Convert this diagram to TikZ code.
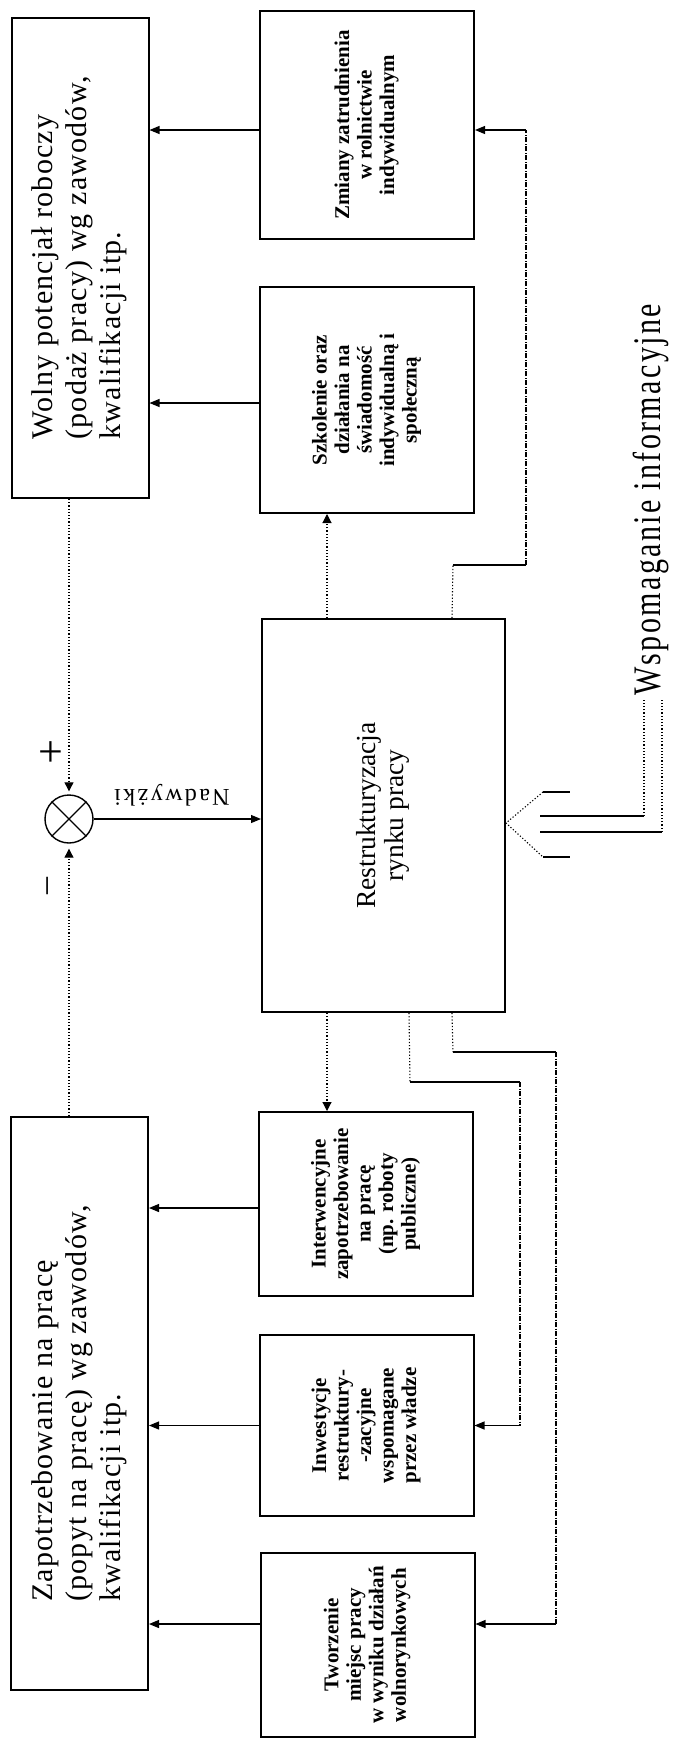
\documentclass[tikz,border=0pt]{standalone}
\usepackage{fontspec}
\setmainfont{Liberation Serif}
\newfontfamily\spacedfont{Liberation Serif}[LetterSpace=10]
\newfontfamily\boxfont{Liberation Serif}[LetterSpace=4]
\newfontfamily\widefont{Liberation Serif}[LetterSpace=8]
\usepackage{graphicx}
\usetikzlibrary{arrows.meta,calc}
\newcommand{\leftlines}[1]{\rotatebox{90}{\begin{tabular}{@{}l@{}}#1\end{tabular}}}
\newcommand{\midlines}[1]{\rotatebox{90}{\begin{tabular}{@{}c@{}}#1\end{tabular}}}
\tikzset{
  bigbox/.style={draw=black,line width=2pt,minimum width=137pt,inner sep=0pt,font=\boxfont\fontsize{30}{34}\selectfont},
  smallbox/.style={draw=black,line width=2pt,minimum width=214pt,inner sep=0pt,font=\bfseries\fontsize{21}{22.5}\selectfont},
  restrbox/.style={draw=black,line width=2pt,minimum width=243pt,minimum height=393pt,inner sep=0pt,font=\fontsize{27.5}{28}\selectfont},
  sumnode/.style={draw=black,circle,line width=1.4pt,minimum size=48pt,inner sep=0pt},
  plainline/.style={line width=1.1pt},
  solidarr/.style={plainline,-{Triangle[length=10pt,width=8pt]}},
  dotline/.style={line width=1.1pt,dash pattern=on 1.2pt off 2pt},
  dotarr/.style={dotline,-{Triangle[length=9pt,width=9pt]}},
  dashdot/.style={line width=1.1pt,dash pattern=on 5pt off 1.5pt on 1pt off 1.5pt},
  hollowarr/.style={line width=1.6pt}
}
\begin{document}
\begin{tikzpicture}[x=1pt,y=-1pt]
  \path[fill=white,use as bounding box] (0,0) rectangle (672,1740);
  % left column
  \node[bigbox,minimum height=480pt] (wolny) at (80,258) {\leftlines{Wolny potencjał roboczy\\(podaż pracy) wg zawodów,\\kwalifikacji itp.}};
  \node[bigbox,minimum height=573pt] (zapotrz) at (79.5,1403.5) {\leftlines{Zapotrzebowanie na pracę\\(popyt na pracę) wg zawodów,\\kwalifikacji itp.}};
  % middle column
  \node[smallbox,minimum height=228pt] (zmiany) at (367,125) {\midlines{Zmiany zatrudnienia\\w rolnictwie\\indywidualnym}};
  \node[smallbox,minimum height=226pt] (szkol) at (367,400) {\midlines{Szkolenie oraz\\działania na\\świadomość\\indywidualną i\\społeczną}};
  \node[restrbox] (restr) at (383.5,815.5) {\midlines{Restrukturyzacja\\rynku pracy}};
  \node[smallbox,minimum height=184pt] (interw) at (366,1204) {\midlines{Interwencyjne\\zapotrzebowanie\\na pracę\\(np. roboty\\publiczne)}};
  \node[smallbox,minimum height=181pt] (inwest) at (366.5,1425.5) {\midlines{Inwestycje\\restruktury-\\-zacyjne\\wspomagane\\przez władze}};
  \node[smallbox,minimum height=184pt] (tworz) at (367.5,1645) {\midlines{Tworzenie\\miejsc pracy\\w wyniku działań\\wolnorynkowych}};
  % summing junction
  \node[sumnode] (sum) at (69,819) {};
  \draw[line width=1.2pt] (sum.45) -- (sum.225) (sum.135) -- (sum.315);
  \node[font=\fontsize{44}{44}\selectfont] (plus) at (51,754) {+};
  \node[rotate=90,font=\fontsize{34}{34}\selectfont] (minus) at (51,886) {–};
  \node[rotate=180,font=\spacedfont\fontsize{24}{24}\selectfont] (nadw) at (172,795) {Nadwyżki};
  \node[rotate=90,font=\widefont\fontsize{30}{30}\selectfont] (wspom) at (651,500) {\scalebox{1}[1.3]{Wspomaganie informacyjne}};

  % outputs into the left boxes
  \coordinate (zmA) at ([yshift=-5pt]zmiany.west);
  \coordinate (szA) at ([yshift=-3pt]szkol.west);
  \coordinate (inA) at ([yshift=-4pt]interw.west);
  \coordinate (twA) at ([yshift=21pt]tworz.west);
  \draw[solidarr] (zmA) -- (zmA -| wolny.east);
  \draw[solidarr] (szA) -- (szA -| wolny.east);
  \draw[solidarr] (inA) -- (inA -| zapotrz.east);
  \draw[solidarr] (inwest.west) -- (inwest.west -| zapotrz.east);
  \draw[solidarr] (twA) -- (twA -| zapotrz.east);

  % feedback into the junction
  \coordinate (sumT) at ([yshift=3pt]sum.north);
  \coordinate (sumB) at ([yshift=-5pt]sum.south);
  \draw[dotarr] (wolny.south -| sum.north) -- (sumT);
  \draw[dotarr] (zapotrz.north -| sum.south) -- (sumB);
  \draw[solidarr] (sum.east) -- (sum.east -| restr.west);

  % restructuring outputs
  \coordinate (rN1) at ([xshift=66pt]restr.north west);
  \coordinate (rN2) at ([xshift=191pt]restr.north west);
  \coordinate (rS1) at ([xshift=66pt]restr.south west);
  \coordinate (rS2) at ([xshift=148pt]restr.south west);
  \coordinate (rS3) at ([xshift=191pt]restr.south west);
  \draw[dotarr] (rN1) -- (rN1 |- szkol.south);
  \draw[dotarr] (rS1) -- (rS1 |- interw.north);

  \coordinate (zmB) at ([yshift=-5pt]zmiany.east);
  \coordinate (zmK1) at (453,565);
  \coordinate (zmK2) at (526,565);
  \draw[dotline] (rN2) -- (zmK1);
  \draw[plainline] (zmK1) -- (zmK2);
  \draw[dashdot] (zmK2) -- (zmK2 |- zmB);
  \draw[solidarr] (zmK2 |- zmB) -- (zmB);

  \coordinate (inK1) at (410,1082);
  \coordinate (inK2) at (520,1082);
  \draw[dotline] (rS2) -- (inK1);
  \draw[plainline] (inK1) -- (inK2);
  \draw[dashdot] (inK2) -- (inK2 |- inwest.east);
  \draw[solidarr] (inK2 |- inwest.east) -- (inwest.east);

  \coordinate (twB) at ([yshift=21pt]tworz.east);
  \coordinate (twK1) at (453,1052);
  \coordinate (twK2) at (556,1052);
  \draw[dotline] (rS3) -- (twK1);
  \draw[plainline] (twK1) -- (twK2);
  \draw[dashdot] (twK2) -- (twK2 |- twB);
  \draw[solidarr] (twK2 |- twB) -- (twB);

  % information support arrow
  \coordinate (tip) at ([yshift=-7.5pt]restr.east);
  \coordinate (hA1) at (540,816);
  \coordinate (hA2) at (644,816);
  \coordinate (hB1) at (540,832);
  \coordinate (hB2) at (662,832);
  \coordinate (hd1) at (543,792);
  \coordinate (hd1e) at (570,792);
  \coordinate (hd2) at (543,857);
  \coordinate (hd2e) at (570,857);
  \draw[hollowarr] (hA1) -- (hA2) (hB1) -- (hB2);
  \draw[hollowarr] (hd1) -- (hd1e) (hd2) -- (hd2e);
  \draw[dotline] (hd1) -- (tip) -- (hd2);
  \draw[dotline] (hA2) -- (hA2 |- wspom.west) (hB2) -- (hB2 |- wspom.west);
\end{tikzpicture}
\end{document}
